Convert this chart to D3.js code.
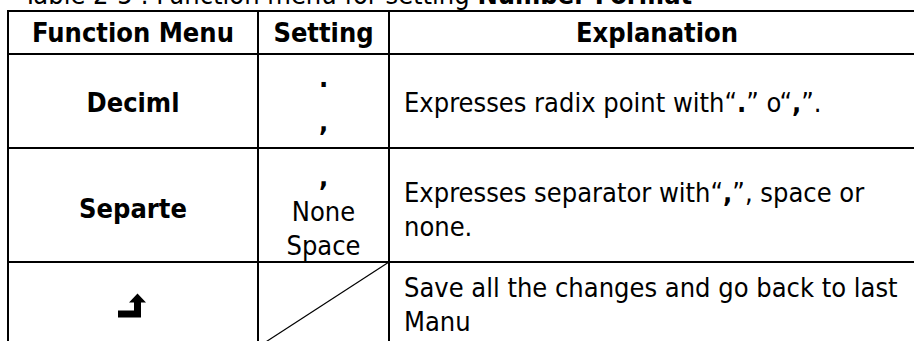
<!DOCTYPE html>
<html>
<head>
<meta charset="utf-8">
<script src="https://cdn.jsdelivr.net/npm/d3@7"></script>
<style>
  html, body { margin: 0; padding: 0; background: #fff; }
  svg { display: block; }
  text { font-family: "DejaVu Sans Condensed", "DejaVu Sans", sans-serif; font-stretch: condensed; fill: #000; }
</style>
</head>
<body>
<script>
// ---- data ----
const titleParts = ["Table 2-5 : Function menu for setting ", "Number Format"];
const headers = ["Function Menu", "Setting", "Explanation"];
const menus = ["Deciml", "Separte", "\u21B5"]; // third entry drawn as the return icon
const settings = [[".", ","], [",", "None", "Space"], []];
const explanations = [
  ["Expresses radix point with\u201C.\u201D o\u201C,\u201D."],
  ["Expresses separator with\u201C,\u201D, space or", "none."],
  ["Save all the changes and go back to last", "Manu"]
];

// ---- layout ----
const W = 914, H = 341;
const colEdges = [8, 258, 389, 925];
const rowEdges = [11, 54, 148, 262, 347];
const fs = 27, cap = 19.7;
const menuOffset = [0, 1, 3, 0];      // header + 3 body rows
const settingOffset = [0, -2, 6, 0];
const explOffset = [0, 1, 4, 0];
const settingLH = [44, 34.5, 0];
const explLH = 34;

const svg = d3.select("body").append("svg").attr("width", W).attr("height", H);
svg.append("rect").attr("width", W).attr("height", H).attr("fill", "#fff");

const x = d3.scaleOrdinal().domain([0, 1, 2]).range([0, 1, 2].map(i => (colEdges[i] + colEdges[i + 1]) / 2));
const yc = i => (rowEdges[i] + rowEdges[i + 1]) / 2;

// title (mostly cropped above the frame)
const t = svg.append("text").attr("x", 23).attr("y", 4).attr("font-size", fs);
t.append("tspan").text(titleParts[0]);
t.append("tspan").attr("font-weight", "bold").text(titleParts[1]);

// grid lines
const g = svg.append("g").attr("stroke", "#000");
rowEdges.forEach(y => g.append("line").attr("x1", colEdges[0] - 1).attr("x2", colEdges[3]).attr("y1", y).attr("y2", y).attr("stroke-width", 2));
colEdges.forEach(cx => g.append("line").attr("x1", cx).attr("x2", cx).attr("y1", rowEdges[0] - 1).attr("y2", rowEdges[4] + 1).attr("stroke-width", 2));
// diagonal in empty setting cell
g.append("line").attr("x1", colEdges[2]).attr("y1", rowEdges[3]).attr("x2", colEdges[1]).attr("y2", rowEdges[4]).attr("stroke-width", 1.2);

// header
svg.selectAll("text.hdr").data(headers).join("text").attr("class", "hdr")
  .attr("x", (d, i) => x(i)).attr("y", yc(0) + cap / 2)
  .attr("text-anchor", "middle").attr("font-size", fs).attr("font-weight", "bold").text(d => d);

// menu column
menus.forEach((m, r) => {
  if (r === 2) {
    const cx = x(0), cy = yc(3) + 2;
    svg.append("path")
      .attr("d", `M${cx - 15},${cy + 4} L${cx + 1},${cy + 4} L${cx + 1},${cy - 4} L${cx - 4},${cy - 4} L${cx + 4.5},${cy - 13} L${cx + 13},${cy - 4} L${cx + 8},${cy - 4} L${cx + 8},${cy + 11} L${cx - 15},${cy + 11} Z`)
      .attr("fill", "#000");
  } else {
    svg.append("text").attr("x", x(0)).attr("y", yc(r + 1) + menuOffset[r + 1] + cap / 2)
      .attr("text-anchor", "middle").attr("font-size", fs).attr("font-weight", "bold").text(m);
  }
});

// setting column
settings.forEach((lines, r) => {
  const lh = settingLH[r];
  lines.forEach((s, i) => {
    const bold = (s === "." || s === ",");
    svg.append("text").attr("x", x(1))
      .attr("y", yc(r + 1) + settingOffset[r + 1] - (lines.length - 1) * lh / 2 + i * lh + cap / 2)
      .attr("text-anchor", "middle").attr("font-size", fs).attr("font-weight", bold ? "bold" : null).text(s);
  });
});

// explanation column
explanations.forEach((lines, r) => {
  lines.forEach((s, i) => {
    const tx = svg.append("text").attr("x", colEdges[2] + 15)
      .attr("y", yc(r + 1) + explOffset[r + 1] - (lines.length - 1) * explLH / 2 + i * explLH + cap / 2)
      .attr("font-size", fs);
    s.split(/(\u201C[^\u201D]*\u201D)/).filter(p => p.length).forEach(p => {
      if (p[0] === "\u201C") {
        tx.append("tspan").text("\u201C");
        tx.append("tspan").attr("font-weight", "bold").text(p.slice(1, -1));
        tx.append("tspan").text("\u201D");
      } else {
        tx.append("tspan").text(p);
      }
    });
  });
});
</script>
</body>
</html>
